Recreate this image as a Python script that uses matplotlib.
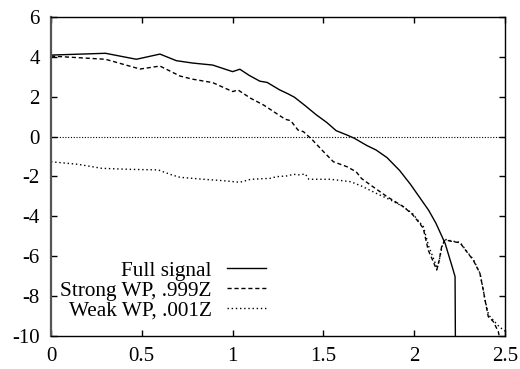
import matplotlib
matplotlib.use("Agg")
import matplotlib.pyplot as plt

plt.rcParams['font.family'] = ['Liberation Serif', 'DejaVu Serif']
plt.rcParams['axes.unicode_minus'] = False

full_x = [0, 0.30, 0.47, 0.60, 0.69, 0.78, 0.89, 1.00, 1.04, 1.09, 1.15, 1.19, 1.26, 1.30, 1.34,
          1.40, 1.46, 1.52, 1.57, 1.63, 1.67, 1.74, 1.79, 1.85, 1.92, 1.98, 2.03, 2.08, 2.12,
          2.17, 2.21, 2.225, 2.227]
full_y = [4.09, 4.18, 3.88, 4.14, 3.81, 3.69, 3.59, 3.26, 3.38, 3.08, 2.78, 2.72, 2.34, 2.17, 1.98,
          1.55, 1.10, 0.70, 0.30, 0.08, -0.08, -0.45, -0.67, -1.05, -1.70, -2.40, -3.05, -3.70, -4.35,
          -5.35, -6.55, -7.02, -10.5]

strong_x = [0, 0.30, 0.49, 0.60, 0.71, 0.78, 0.89, 1.00, 1.03, 1.10, 1.17, 1.24, 1.29, 1.32, 1.36,
            1.39, 1.44, 1.50, 1.555, 1.63, 1.68, 1.71, 1.76, 1.85, 1.94, 1.99, 2.03, 2.05, 2.077,
            2.105, 2.124, 2.138, 2.151, 2.17, 2.215, 2.252, 2.289, 2.325, 2.362, 2.38, 2.39, 2.408,
            2.436, 2.463, 2.475]
strong_y = [4.04, 3.88, 3.39, 3.54, 3.04, 2.88, 2.71, 2.26, 2.34, 1.92, 1.59, 1.17, 0.87, 0.80, 0.33,
            0.25, -0.17, -0.75, -1.26, -1.51, -1.76, -2.10, -2.43, -3.01, -3.51, -3.90, -4.35, -4.60,
            -5.69, -6.27, -6.69, -6.19, -5.52, -5.18, -5.27, -5.32, -5.77, -6.19, -6.86, -7.69, -8.19,
            -9.03, -9.28, -9.78, -10.3]

weak_x = [0, 0.15, 0.28, 0.43, 0.59, 0.665, 0.71, 0.84, 0.95, 1.04, 1.10, 1.21, 1.24, 1.30, 1.335,
          1.37, 1.40, 1.42, 1.54, 1.65, 1.71, 1.79, 1.87, 1.94, 1.99, 2.03, 2.05, 2.08, 2.11, 2.127,
          2.14, 2.155, 2.17, 2.215, 2.252, 2.289, 2.325, 2.362, 2.38, 2.39, 2.41, 2.44, 2.47, 2.50]
weak_y = [-1.26, -1.39, -1.59, -1.64, -1.67, -1.92, -2.04, -2.14, -2.21, -2.29, -2.14, -2.09, -2.01,
          -1.97, -1.89, -1.92, -1.87, -2.14, -2.14, -2.26, -2.48, -2.84, -3.18, -3.52, -3.85, -4.30,
          -4.50, -5.50, -6.20, -6.60, -6.10, -5.45, -5.15, -5.25, -5.30, -5.75, -6.15, -6.85, -7.65,
          -8.20, -8.95, -9.25, -9.55, -9.75]

labels = ["Full signal", "Strong WP, .999Z", "Weak WP, .001Z"]
x_ticks = [0, 0.5, 1, 1.5, 2, 2.5]
x_ticklabels = ["0", "0.5", "1", "1.5", "2", "2.5"]
y_ticks = [-10, -8, -6, -4, -2, 0, 2, 4, 6]

fig = plt.figure(figsize=(5.2, 3.69), dpi=100)
ax = fig.add_axes([51/520, 1-336/369, (505-51)/520, (336-17)/369])

ax.axhline(0, color='black', lw=0.8, linestyle=(0, (1, 1.5)))
ax.plot(full_x, full_y, color='black', lw=1.0, linestyle='-', label=labels[0])
ax.plot(strong_x, strong_y, color='black', lw=1.0, linestyle=(0, (3, 2)), label=labels[1])
ax.plot(weak_x, weak_y, color='black', lw=1.0, linestyle=(0, (1, 2)), label=labels[2])

ax.set_xlim(0, 2.5)
ax.set_ylim(-10, 6)
ax.set_xticks(x_ticks)
ax.set_xticklabels(x_ticklabels)
ax.set_yticks(y_ticks)
ax.tick_params(direction='in', top=True, right=True, length=4, width=1, labelsize=15, pad=8)
for s in ax.spines.values():
    s.set_linewidth(1.0)
ax.spines['left'].set_linewidth(1.6)
ax.spines['left'].set_color('#555555')

ax.legend(loc='upper right', bbox_to_anchor=(266/520, 1-261/369), bbox_transform=fig.transFigure,
          frameon=False, markerfirst=False, fontsize=15.3, handlelength=1.85, handletextpad=0.7,
          labelspacing=0.0, borderpad=0, borderaxespad=0)

fig.savefig("out.png", dpi=100)
